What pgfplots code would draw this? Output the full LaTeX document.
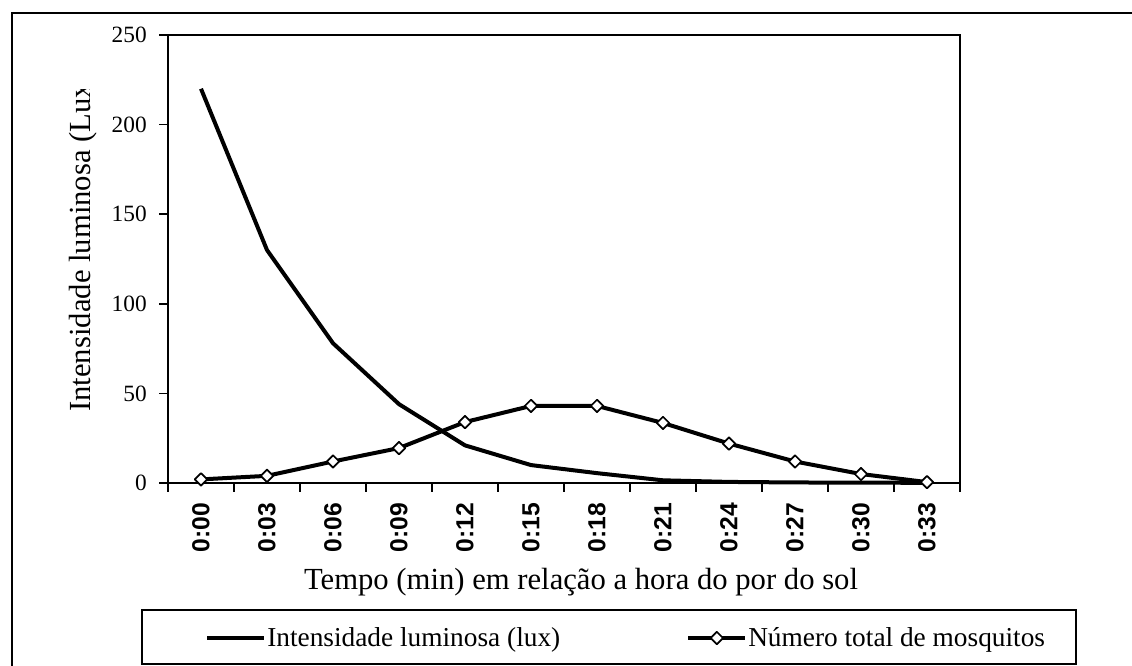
\documentclass[border=0pt]{standalone}
\usepackage{fontspec}
\setmainfont{Liberation Serif}
\setsansfont{Liberation Sans}
\usepackage{pgfplots}
\pgfplotsset{compat=1.18}
\newcommand\yt[1]{\fontsize{17.5}{20}\selectfont #1}
\begin{document}
\begin{tikzpicture}
\path[use as bounding box] (0pt,0pt) rectangle (849pt,-499.5pt);
\draw[line width=1.4pt] (860pt,-9.75pt) -- (9pt,-9.75pt) -- (9pt,-510pt);
\begin{axis}[
  at={(126pt,-362.25pt)}, anchor=south west,
  scale only axis, width=594pt, height=336pt,
  xmin=-0.5, xmax=11.5, ymin=0, ymax=250,
  clip=false,
  axis line style={line width=1.5pt},
  tick pos=left,
  xtick={0,...,11},
  xticklabels={0:00,0:03,0:06,0:09,0:12,0:15,0:18,0:21,0:24,0:27,0:30,0:33},
  minor xtick={-0.5,0.5,...,11.5},
  ytick={0,50,100,150,200,250},
  yticklabels={\yt{0},\yt{50},\yt{100},\yt{150},\yt{200},\yt{250}},
  minor ytick={0,50,...,250},
  major tick length=0pt, minor tick length=6.5pt,
  tick align=outside,
  every tick/.style={line width=1.2pt, black},
  x tick label style={yshift=-15pt, rotate=90, anchor=east, inner sep=0pt,
    font=\sffamily\bfseries\fontsize{18.5}{20}\selectfont},
  y tick label style={anchor=east, inner sep=0pt, xshift=-15.75pt},
  xlabel={Tempo (min) em relação a hora do por do sol},
  xlabel style={at={(axis description cs:0.5215,-0.2388)}, anchor=base, inner sep=0pt,
    font=\fontsize{23}{27}\selectfont},
  legend columns=2,
  legend image code/.code={\draw[mark repeat=2,mark phase=2,#1] plot coordinates {(0pt,0pt) (21.4pt,0pt) (42.75pt,0pt)};},
  legend style={at={(axis description cs:0.0467,-0.346)}, anchor=west,
    draw=none, fill=none, inner sep=0pt,
    font=\fontsize{20.5}{24}\selectfont,
    nodes={inner sep=0.75pt},
    /tikz/every even column/.append style={column sep=93.75pt}},
]
\addplot[line width=3pt, black, line join=round] coordinates {
  (0,220) (1,130) (2,78) (3,44) (4,21) (5,10) (6,5.5) (7,1.5) (8,0.6) (9,0.3) (10,0.2) (11,0.1)};
\addlegendentry{Intensidade luminosa (lux)}
\addplot[line width=3pt, black, line join=round, mark=square*, mark size=3.3pt,
  mark options={rotate=45, fill=white, line width=1.3pt}] coordinates {
  (0,2) (1,4) (2,12) (3,19.5) (4,34) (5,43) (6,43) (7,33.5) (8,22) (9,12) (10,5) (11,0.5)};
\addlegendentry{Número total de mosquitos}
\end{axis}
\begin{scope}
\clip (30pt,-67.5pt) rectangle (80pt,-320pt);
\node[rotate=90, anchor=base west, inner sep=0pt, font=\fontsize{23}{27}\selectfont] at (67.5pt,-309pt) {Intensidade luminosa (Lux)};
\end{scope}
\draw[line width=1.5pt] (106.5pt,-457.5pt) rectangle (807pt,-498pt);
\end{tikzpicture}
\end{document}
